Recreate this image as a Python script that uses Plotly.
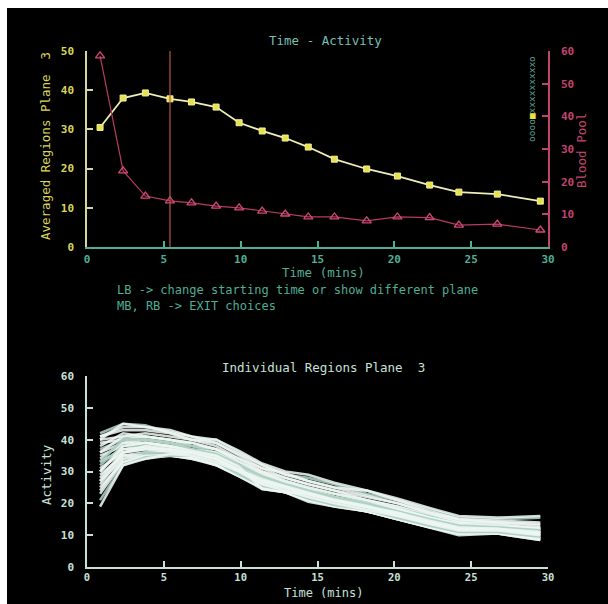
import plotly.graph_objects as go

# ---------------- data ----------------
times = [0.85, 2.35, 3.8, 5.4, 6.8, 8.4, 9.9, 11.4, 12.9, 14.4, 16.1, 18.2, 20.2, 22.3, 24.2, 26.7, 29.5]
averaged = [30.5, 38.0, 39.3, 37.8, 37.0, 35.7, 31.7, 29.6, 27.8, 25.5, 22.4, 19.9, 18.1, 15.8, 14.0, 13.5, 11.7]
blood_pool = [58.5, 23.3, 15.6, 14.1, 13.5, 12.5, 12.0, 11.0, 10.1, 9.2, 9.2, 8.0, 9.2, 9.0, 6.7, 7.0, 5.2]
start_time = 5.4

regions = [
    [42, 45, 44.5, 42, 40, 40, 36, 32, 29, 28, 26, 23, 21, 18, 15.5, 15, 15.5],
    [41, 44, 44, 43, 41, 39, 35, 31, 29.5, 27, 25, 24, 21, 17.5, 15, 14.5, 14],
    [40, 41, 42, 41, 40, 38, 34, 31, 28, 26, 24, 22, 20, 17, 15, 14, 13],
    [39, 40, 41, 40, 39, 37, 34, 30, 28, 26, 24, 21, 19, 16.5, 14, 13.5, 12],
    [38, 42, 41, 40, 38, 37, 33, 30, 27, 25, 23, 21, 19, 16, 14, 13, 12.5],
    [37, 40, 40, 39, 38, 36, 33, 29, 27, 25, 23, 20.5, 18.5, 16, 13.5, 13, 11],
    [36, 39, 40, 39, 37, 36, 32, 29, 26.5, 24.5, 22, 20, 18, 15.5, 13.5, 12.5, 12],
    [35, 38, 39, 38, 37, 35, 32, 28.5, 26, 24, 22, 20, 18, 15, 13, 12.5, 11.5],
    [34, 39, 39, 38, 36, 35, 31, 28, 26, 24, 22, 19.5, 17.5, 15, 13, 12, 11],
    [33, 37, 38, 37.5, 36, 34.5, 31, 28, 25.5, 23.5, 21.5, 19.5, 17, 14.5, 12.5, 12, 10.5],
    [32, 38, 38, 37, 36, 34, 31, 27.5, 25.5, 23, 21, 19, 17, 14.5, 12.5, 12, 11],
    [31, 36, 37, 37, 35.5, 34, 30.5, 27, 25, 23, 21, 19, 16.5, 14, 12, 11.5, 10],
    [30, 37, 37.5, 36.5, 35, 33.5, 30, 27, 25, 22.5, 20.5, 18.5, 16.5, 14, 12, 11.5, 10.5],
    [29, 35, 36, 36, 35, 33, 30, 26.5, 24.5, 22.5, 20.5, 18.5, 16, 13.5, 11.5, 11, 9.5],
    [28, 36, 37, 36, 34.5, 33, 29.5, 26.5, 24.5, 22, 20, 18, 16, 13.5, 11.5, 11, 10],
    [27, 34, 36, 35.5, 34.5, 32.5, 29.5, 26, 24, 22, 20, 18, 15.5, 13, 11, 11, 9],
    [26, 35, 35, 35, 34, 32.5, 29, 26, 24, 21.5, 19.5, 17.5, 15.5, 13, 11, 10.5, 9],
    [25, 33, 35, 35, 34, 32, 29, 25, 23.5, 21, 19.5, 17.5, 15, 12.5, 10.5, 10.5, 8.5],
    [24, 34, 34.5, 35, 34.5, 32, 28.5, 25, 23.5, 21, 19, 17.5, 15, 12.5, 10.5, 11, 9],
    [23, 33, 34, 35, 34.5, 32, 28.5, 24.5, 23.5, 20.5, 19, 17.5, 15, 12.5, 10, 10.5, 8.5],
    [21, 32, 34.5, 35, 35, 33, 29, 25.5, 24, 21.5, 19.5, 18, 15.5, 13, 11, 11, 9.5],
    [19, 32, 34, 35.5, 35, 33, 30, 26, 24, 22, 20, 18, 16, 13.5, 11.5, 11.5, 10],
    [41, 43, 43, 42, 40, 39, 35.5, 32, 29, 27, 25, 22.5, 20, 17, 14.5, 14, 13.5],
    [40, 45, 44, 42.5, 41, 40, 36.5, 32.5, 30, 29, 26.5, 24, 21.5, 18.5, 16, 15.5, 16],
    [36, 41, 41, 40, 39, 37, 33, 29.5, 27, 25, 23, 21, 18.5, 15.5, 13.5, 13, 12],
    [33, 40, 40, 39, 37, 35.5, 32, 28.5, 26, 24, 22, 20, 17.5, 15, 13, 12.5, 11.5],
    [30, 38, 39, 38, 36.5, 35, 31.5, 24.5, 23.5, 23, 21, 19, 17, 14, 12, 12, 10.5],
    [27, 36, 38, 37, 36, 34, 30.5, 27.5, 25.5, 23.5, 21, 19, 17, 14.5, 12.5, 12, 11],
]

x_ticks = [0, 5, 10, 15, 20, 25, 30]
avg_ticks = [0, 10, 20, 30, 40, 50]
bp_ticks = [0, 10, 20, 30, 40, 50, 60]
act_ticks = [0, 10, 20, 30, 40, 50, 60]

# ---------------- style ----------------
W, H = 608, 604
MONO = "DejaVu Sans Mono"
TEAL = "#4fae96"
TITLE_TEAL = "#78beb4"
YELLOW = "#d9d65a"
YLINE = "#d8d6a0"
PINK = "#c0456c"
PALE = "#c9e0d8"

def px(x):
    return x / W

def py(y):
    return 1 - y / H

fig = go.Figure()

# individual regions (bottom)
for i, r in enumerate(regions):
    fig.add_trace(go.Scatter(
        x=times, y=r, mode="lines", xaxis="x2", yaxis="y3",
        line=dict(color="rgba(238,246,242,0.88)" if i % 5 else "rgba(170,205,192,0.9)", width=2.6),
        showlegend=False, hoverinfo="skip"))

# blood pool
fig.add_trace(go.Scatter(
    x=times, y=blood_pool, mode="lines+markers", xaxis="x", yaxis="y2",
    line=dict(color="#b83c62", width=1.2),
    marker=dict(symbol="triangle-up-open", size=8, color="#d04a72", line=dict(width=1.3)),
    showlegend=False, cliponaxis=False))

# averaged
fig.add_trace(go.Scatter(
    x=times, y=averaged, mode="lines+markers", xaxis="x", yaxis="y",
    line=dict(color="#eeeeb8", width=1.8),
    marker=dict(symbol="square", size=6, color="#e8e24a", line=dict(color="#f4f0a0", width=1)),
    showlegend=False, cliponaxis=False))

def ax(color, tickcolor, **kw):
    d = dict(showgrid=False, zeroline=False, showline=True, linecolor=color, linewidth=1.5,
             ticks="inside", ticklen=6, tickwidth=1.5, tickcolor=color, automargin=False,
             tickfont=dict(family=MONO, size=11, color=tickcolor, weight="bold"))
    d.update(kw)
    return d

x_dom = [px(87), px(548)]
layout = dict(
    width=W, height=H, autosize=False,
    margin=dict(l=0, r=0, t=0, b=0, pad=0),
    paper_bgcolor="white", plot_bgcolor="black",
    showlegend=False,
    xaxis=ax(TEAL, TEAL, domain=x_dom, anchor="y", range=[0, 30], tickvals=x_ticks, ticklabelstandoff=1),
    yaxis=ax(YLINE, YELLOW, domain=[py(247), py(51)], anchor="x", range=[0, 50], tickvals=avg_ticks,
             ticklabelstandoff=9),
    yaxis2=ax(PINK, PINK, overlaying="y", side="right", anchor="x", range=[0, 60], tickvals=bp_ticks,
              ticklabelstandoff=9),
    xaxis2=ax(PALE, PALE, domain=x_dom, anchor="y3", range=[0, 30], tickvals=x_ticks, ticklabelstandoff=0,
              tickfont=dict(family=MONO, size=10.5, color=PALE, weight="bold")),
    yaxis3=ax(PALE, PALE, domain=[py(567), py(376)], anchor="x2", range=[0, 60], tickvals=act_ticks,
              ticklabelstandoff=9),
)
fig.update_layout(**layout)

# black screen background
fig.add_shape(type="rect", xref="paper", yref="paper", x0=px(7), x1=1.0, y0=0, y1=py(8),
              fillcolor="black", line=dict(width=0), layer="below")

# starting-time cursor
fig.add_shape(type="line", xref="x", yref="y domain", x0=start_time, x1=start_time, y0=0, y1=1,
              line=dict(color="#b4584e", width=1.2))

def note(text, x, y, color, size=12.5, angle=0, xanchor="center"):
    fig.add_annotation(text=text, x=px(x), y=py(y), xref="paper", yref="paper", showarrow=False,
                       textangle=angle, xanchor=xanchor, yanchor="middle", align="left",
                       font=dict(family=MONO, size=size, color=color))

note("Time - Activity", 325, 40, TITLE_TEAL)
note("Averaged Regions Plane  3", 45, 146, YELLOW, angle=-90)
note("Blood Pool", 581, 151, PINK, angle=-90)
note("Time (mins)", 323, 272, TEAL)
note("LB -> change starting time or show different plane<br>MB, RB -> EXIT choices",
     115, 298, TEAL, size=12, xanchor="left")
note("Individual Regions Plane  3", 323, 367, PALE)
note("Activity", 46, 475, PALE, angle=-90)
note("Time (mins)", 323, 593, PALE, size=12)
note("oooo<span style='color:#e8e24a'>■</span>xxxxxxxxxo", 531, 99, "#5aa89a", size=9.5, angle=-90)

fig.write_html(
    "out.html",
    config={"responsive": False, "displayModeBar": False},
    post_script="document.body.style.margin='0';document.body.style.overflow='hidden';",
)
